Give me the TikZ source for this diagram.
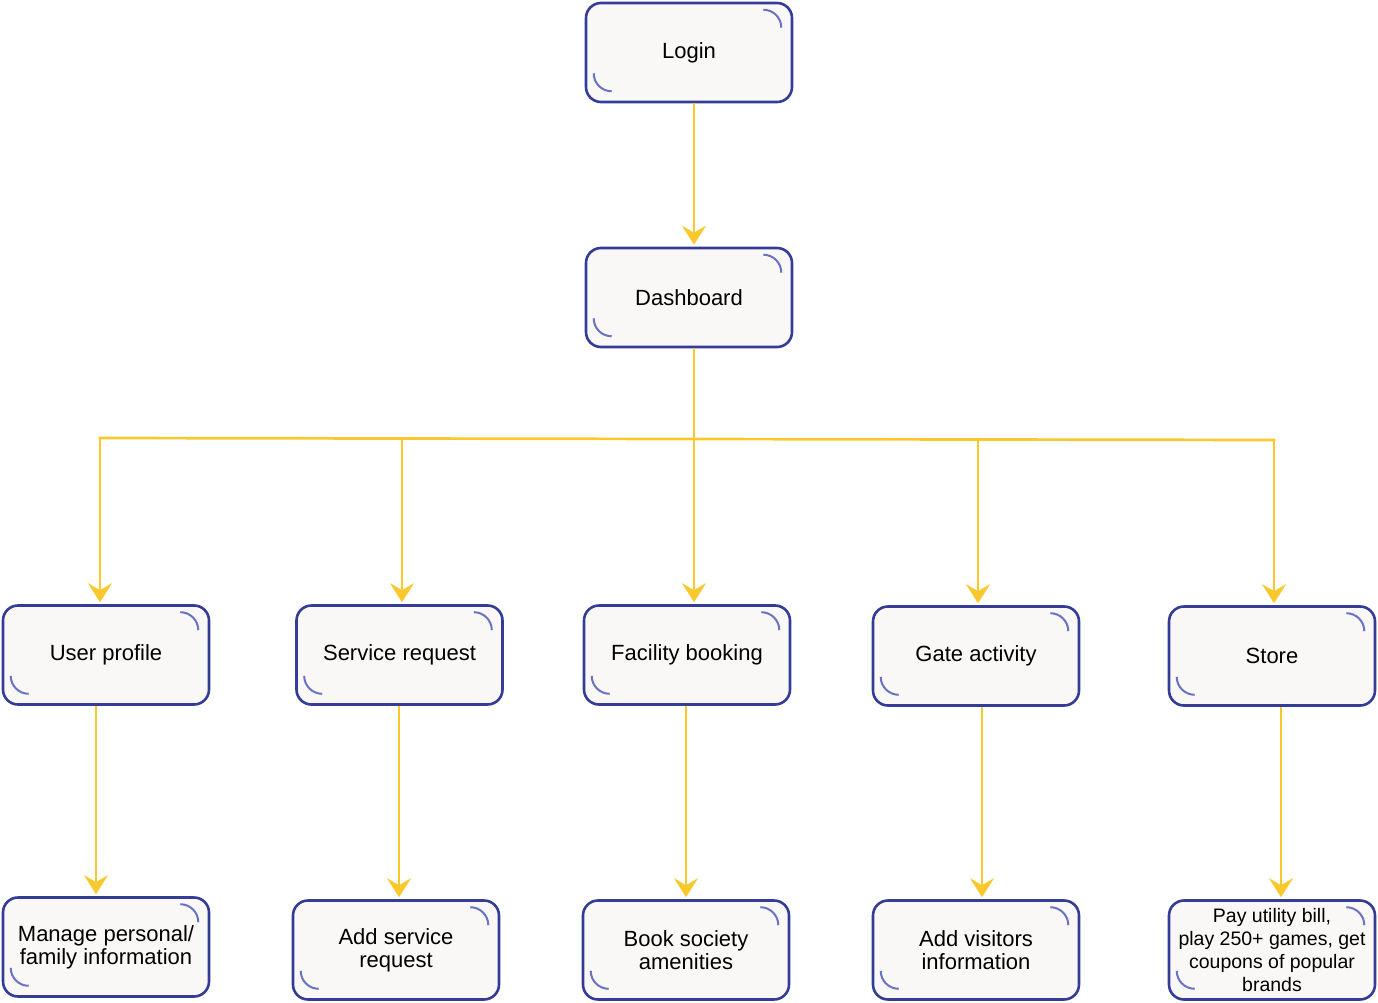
\documentclass[tikz,border=0pt]{standalone}
\usepackage{fontspec}
\setmainfont{Liberation Sans}
\usetikzlibrary{arrows.meta}
\definecolor{ylw}{HTML}{F9C82C}
\definecolor{bdr}{HTML}{353C98}
\definecolor{arcb}{HTML}{6A72C4}
\definecolor{fillc}{HTML}{F9F8F6}
\tikzset{
  box/.style={draw=bdr, line width=2.6pt, fill=fillc, rounded corners=15pt,
    minimum width=206pt, minimum height=99pt, inner sep=2pt, align=center,
    font=\fontsize{22}{23}\selectfont},
  small/.style={font=\fontsize{19.5}{23}\selectfont},
  link/.style={draw=ylw, line width=2.7pt},
  arr/.style={link, -{Stealth[length=19pt,width=24pt,inset=7pt]}, shorten >=2pt},
  arcs/.style={draw=arcb, line width=2pt}
}
\newcommand{\boxarcs}[1]{%
  \draw[arcs] ([xshift=-30pt,yshift=-8pt]#1.north east) arc[start angle=90,end angle=0,radius=18pt];
  \draw[arcs] ([xshift=9pt,yshift=30pt]#1.south west) arc[start angle=180,end angle=270,radius=18pt];
}
\begin{document}
\begin{tikzpicture}[x=1pt,y=-1pt]
\useasboundingbox (0,0) rectangle (1378,1003);
% top
\node[box] (login) at (689,52.5) {Login};
\node[box] (dash) at (689,297.5) {Dashboard};
% row 2
\node[box] (user) at (106,655) {User profile};
\node[box] (svc) at (399.5,655) {Service request};
\node[box] (fac) at (687,655) {Facility booking};
\node[box] (gate) at (976,656) {Gate activity};
\node[box] (store) at (1272,656) {Store};
% row 3
\node[box] (manage) at (106,947) {Manage personal/\\family information};
\node[box] (addsvc) at (396,950) {Add service\\request};
\node[box] (book) at (686,950) {Book society\\amenities};
\node[box] (visit) at (976,950) {Add visitors\\information};
\node[box,small] (pay) at (1272,950) {Pay utility bill,\\play 250+ games, get\\coupons of popular\\brands};
\foreach \n in {login,dash,user,svc,fac,gate,store,manage,addsvc,book,visit,pay}{\boxarcs{\n}}
% bus
\coordinate (b1) at (100,438);
\coordinate (b2) at (402,438.5);
\coordinate (b3) at (694,439);
\coordinate (b4) at (978,439.5);
\coordinate (b5) at (1274,440);
\draw[arr] ([xshift=5pt]login.south) -- ([xshift=5pt]dash.north);
\draw[link] ([xshift=5pt]dash.south) -- (b3);
\draw[link, line cap=rect] (b1) -- (b5);
\draw[arr] (b1) -- (user.north -| b1);
\draw[arr] (b2) -- (svc.north -| b2);
\draw[arr] (b3) -- (fac.north -| b3);
\draw[arr] (b4) -- (gate.north -| b4);
\draw[arr] (b5) -- (store.north -| b5);
% row 3 arrows
\draw[arr] ([xshift=-10pt]user.south) -- ([xshift=-10pt]manage.north);
\draw[arr] ([xshift=-0.5pt]svc.south) -- ([xshift=3pt]addsvc.north);
\draw[arr] ([xshift=-1pt]fac.south) -- ([xshift=0pt]book.north);
\draw[arr] ([xshift=6pt]gate.south) -- ([xshift=6pt]visit.north);
\draw[arr] ([xshift=9pt]store.south) -- ([xshift=9pt]pay.north);
\end{tikzpicture}
\end{document}
